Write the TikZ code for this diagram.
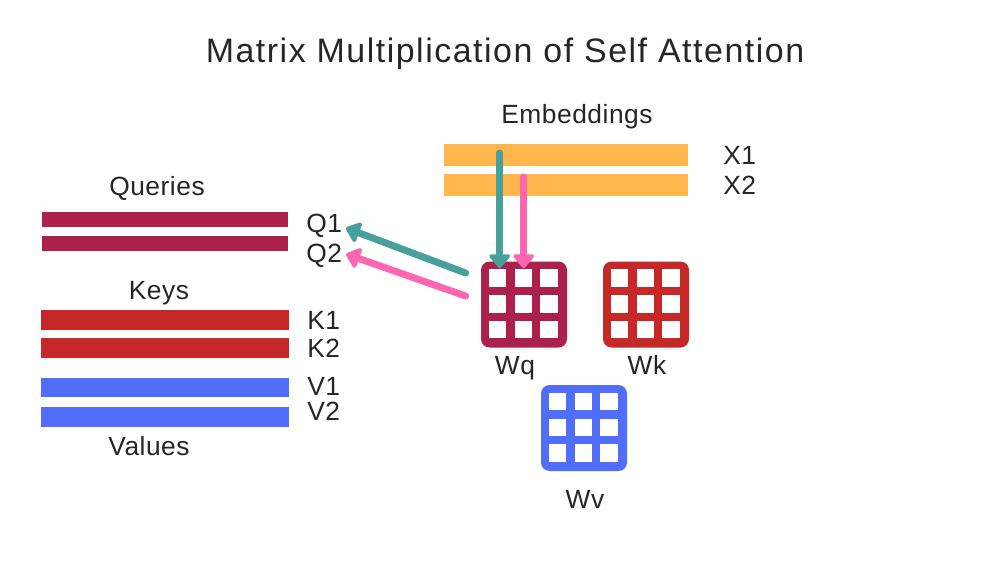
\documentclass[tikz,border=0pt]{standalone}
\usepackage{fontspec}
\setmainfont[LetterSpace=2]{Liberation Sans}
\usetikzlibrary{arrows.meta,positioning}
\definecolor{embcol}{RGB}{255,183,77}
\definecolor{qcol}{RGB}{172,32,76}
\definecolor{kcol}{RGB}{198,40,40}
\definecolor{vcol}{RGB}{80,110,250}
\definecolor{tealcol}{RGB}{72,160,154}
\definecolor{pinkcol}{RGB}{255,102,178}
\newcommand\wcells[1]{\foreach \i in {0,1,2} \foreach \j in {0,1,2} \fill[white] ([shift={(8.2+\i*25.7,8.2+\j*25.7)}]#1.north west) rectangle ++(17.5,17.5);}
\begin{document}
\begin{tikzpicture}[x=0.02cm,y=-0.02cm,
        txt/.style={text=black!85,font=\fontsize{15}{17}\selectfont,inner sep=0,anchor=base},
        bar/.style={rectangle,inner sep=0,minimum width=4.92cm,fill=#1},
        wmat/.style={rectangle,inner sep=0,minimum size=1.72cm,rounded corners=0.17cm,fill=#1},
        arr/.style={line width=0.14cm,draw=#1,line cap=round,-{Triangle[length=0.3cm,width=0.48cm,round]}}]
    \useasboundingbox[fill=white] (0,0) rectangle (1000,562);
    \node[txt,font=\fontsize{19.3}{23}\selectfont\addfontfeature{LetterSpace=4.5}] (title) at (505,62) {Matrix Multiplication of Self Attention};

    \node[txt] (emblab) at (577,123) {Embeddings};
    \node[bar=embcol,minimum width=4.88cm,minimum height=0.44cm] (x1) at (566,155) {};
    \node[bar=embcol,minimum width=4.88cm,minimum height=0.44cm] (x2) at (566,185) {};
    \node[txt,anchor=base west] (x1lab) at (723,164) {X1};
    \node[txt,anchor=base west] (x2lab) at (723,194) {X2};

    \node[txt] (qlab) at (157,195) {Queries};
    \node[bar=qcol,minimum height=0.3cm] (q1) at (165,219.5) {};
    \node[bar=qcol,minimum height=0.3cm] (q2) at (165,243.5) {};
    \node[txt,anchor=base west] (q1lab) at (306,232) {Q1};
    \node[txt,anchor=base west] (q2lab) at (306,262) {Q2};

    \node[txt] (klab) at (159,299) {Keys};
    \node[bar=kcol,minimum width=4.96cm,minimum height=0.4cm] (k1) at (165,320) {};
    \node[bar=kcol,minimum width=4.96cm,minimum height=0.4cm] (k2) at (165,348) {};
    \node[txt,anchor=base west] (k1lab) at (307,329) {K1};
    \node[txt,anchor=base west] (k2lab) at (307,357) {K2};

    \node[bar=vcol,minimum width=4.96cm,minimum height=0.39cm] (v1) at (165,387.5) {};
    \node[bar=vcol,minimum width=4.96cm,minimum height=0.4cm] (v2) at (165,417) {};
    \node[txt,anchor=base west] (v1lab) at (307,395) {V1};
    \node[txt,anchor=base west] (v2lab) at (307,420) {V2};
    \node[txt] (vlab) at (149,455) {Values};

    \node[wmat=qcol] (wq) at (524,304.5) {};
    \wcells{wq}
    \node[wmat=kcol] (wk) at (646,304.5) {};
    \wcells{wk}
    \node[wmat=vcol] (wv) at (584,428) {};
    \wcells{wv}
    \node[txt] (wqlab) at (515,374) {Wq};
    \node[txt] (wklab) at (647,374) {Wk};
    \node[txt] (wvlab) at (585,508) {Wv};

    \coordinate (tq) at ([shift={(56,-2)}]x1.west);
    \coordinate (pq) at ([shift={(80,-8)}]x2.west);
    \draw[arr=tealcol] (tq) -- ([yshift=-0.14cm]tq |- wq.north);
    \draw[arr=pinkcol] (pq) -- ([yshift=-0.14cm]pq |- wq.north);
    \draw[arr=tealcol] ([shift={(-15,-31.5)}]wq.west) -- ([shift={(40,-4)}]q1lab.base west);
    \draw[arr=pinkcol] ([shift={(-15,-8.5)}]wq.west) -- ([shift={(40,-8)}]q2lab.base west);
\end{tikzpicture}
\end{document}
